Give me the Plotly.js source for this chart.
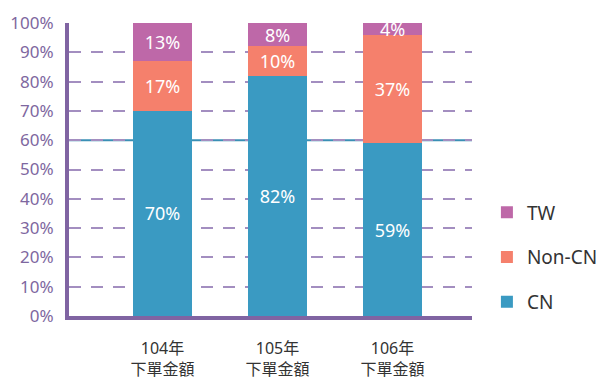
<!DOCTYPE html>
<html>
<head>
<meta charset="utf-8">
<script src="https://cdn.plot.ly/plotly-3.0.1.min.js"></script>
<style>html,body{margin:0;padding:0;background:#fff;}#chart{width:604px;height:379px;}</style>
</head>
<body>
<div id="chart"></div>
<script>
var categories = ["104年<br>下單金額", "105年<br>下單金額", "106年<br>下單金額"];
var cnValues = [70, 82, 59];
var nonCnValues = [17, 10, 37];
var twValues = [13, 8, 4];
var yTickValues = [0, 10, 20, 30, 40, 50, 60, 70, 80, 90, 100];
var yTickLabels = ["0%", "10%", "20%", "30%", "40%", "50%", "60%", "70%", "80%", "90%", "100%"];

var FONT = "'Noto Sans', 'Noto Sans CJK TC', sans-serif";
function pct(arr){ return arr.map(function(v){ return v + "%"; }); }
function bar(name, vals, color, rank){
  return {
    type: "bar", name: name, x: categories, y: vals,
    marker: {color: color},
    text: pct(vals), textposition: "inside", insidetextanchor: "middle",
    textfont: {color: "#ffffff", size: 18, family: FONT},
    hoverinfo: "none", width: 0.513, legendgroup: name, legendrank: rank, cliponaxis: false
  };
}
var data = [
  bar("CN", cnValues, "#3A9AC2", 3),
  bar("Non-CN", nonCnValues, "#F5806C", 2),
  bar("TW", twValues, "#BE68A8", 1)
];
var layout = {
  width: 604, height: 379,
  margin: {l: 69, r: 132, t: 23, b: 63, autoexpand: false},
  barmode: "stack",
  paper_bgcolor: "#fff", plot_bgcolor: "#fff",
  font: {family: FONT, color: "#333"},
  uniformtext: {mode: "show", minsize: 18},
  showlegend: true,
  legend: {
    x: 1.037, xanchor: "left", y: 0.2, yanchor: "middle",
    traceorder: "grouped", tracegroupgap: 17,
    font: {size: 19, color: "#333", family: FONT},
    itemwidth: 30
  },
  xaxis: {
    type: "category", range: [-0.813, 2.691], automargin: false,
    showline: true, linecolor: "#8064A2", linewidth: 4,
    showgrid: false, ticks: "", zeroline: false, ticklabelstandoff: 15,
    tickfont: {size: 16, color: "#333", family: FONT}
  },
  yaxis: {
    range: [0, 100], tickvals: yTickValues, ticktext: yTickLabels, automargin: false,
    showline: true, linecolor: "#8064A2", linewidth: 4,
    showgrid: true, gridcolor: "#A38EC0", gridwidth: 2, griddash: "12px,10px",
    zeroline: false, ticks: "", ticklabelstandoff: 8,
    tickfont: {size: 17, color: "#7E67A0", family: FONT}
  },
  shapes: [{
    type: "line", xref: "paper", yref: "y", x0: 0, x1: 1, y0: 60, y1: 60,
    line: {color: "#3A8FB5", width: 2}, layer: "between"
  }]
};
Plotly.newPlot("chart", data, layout, {displayModeBar: false, staticPlot: true});
</script>
</body>
</html>
